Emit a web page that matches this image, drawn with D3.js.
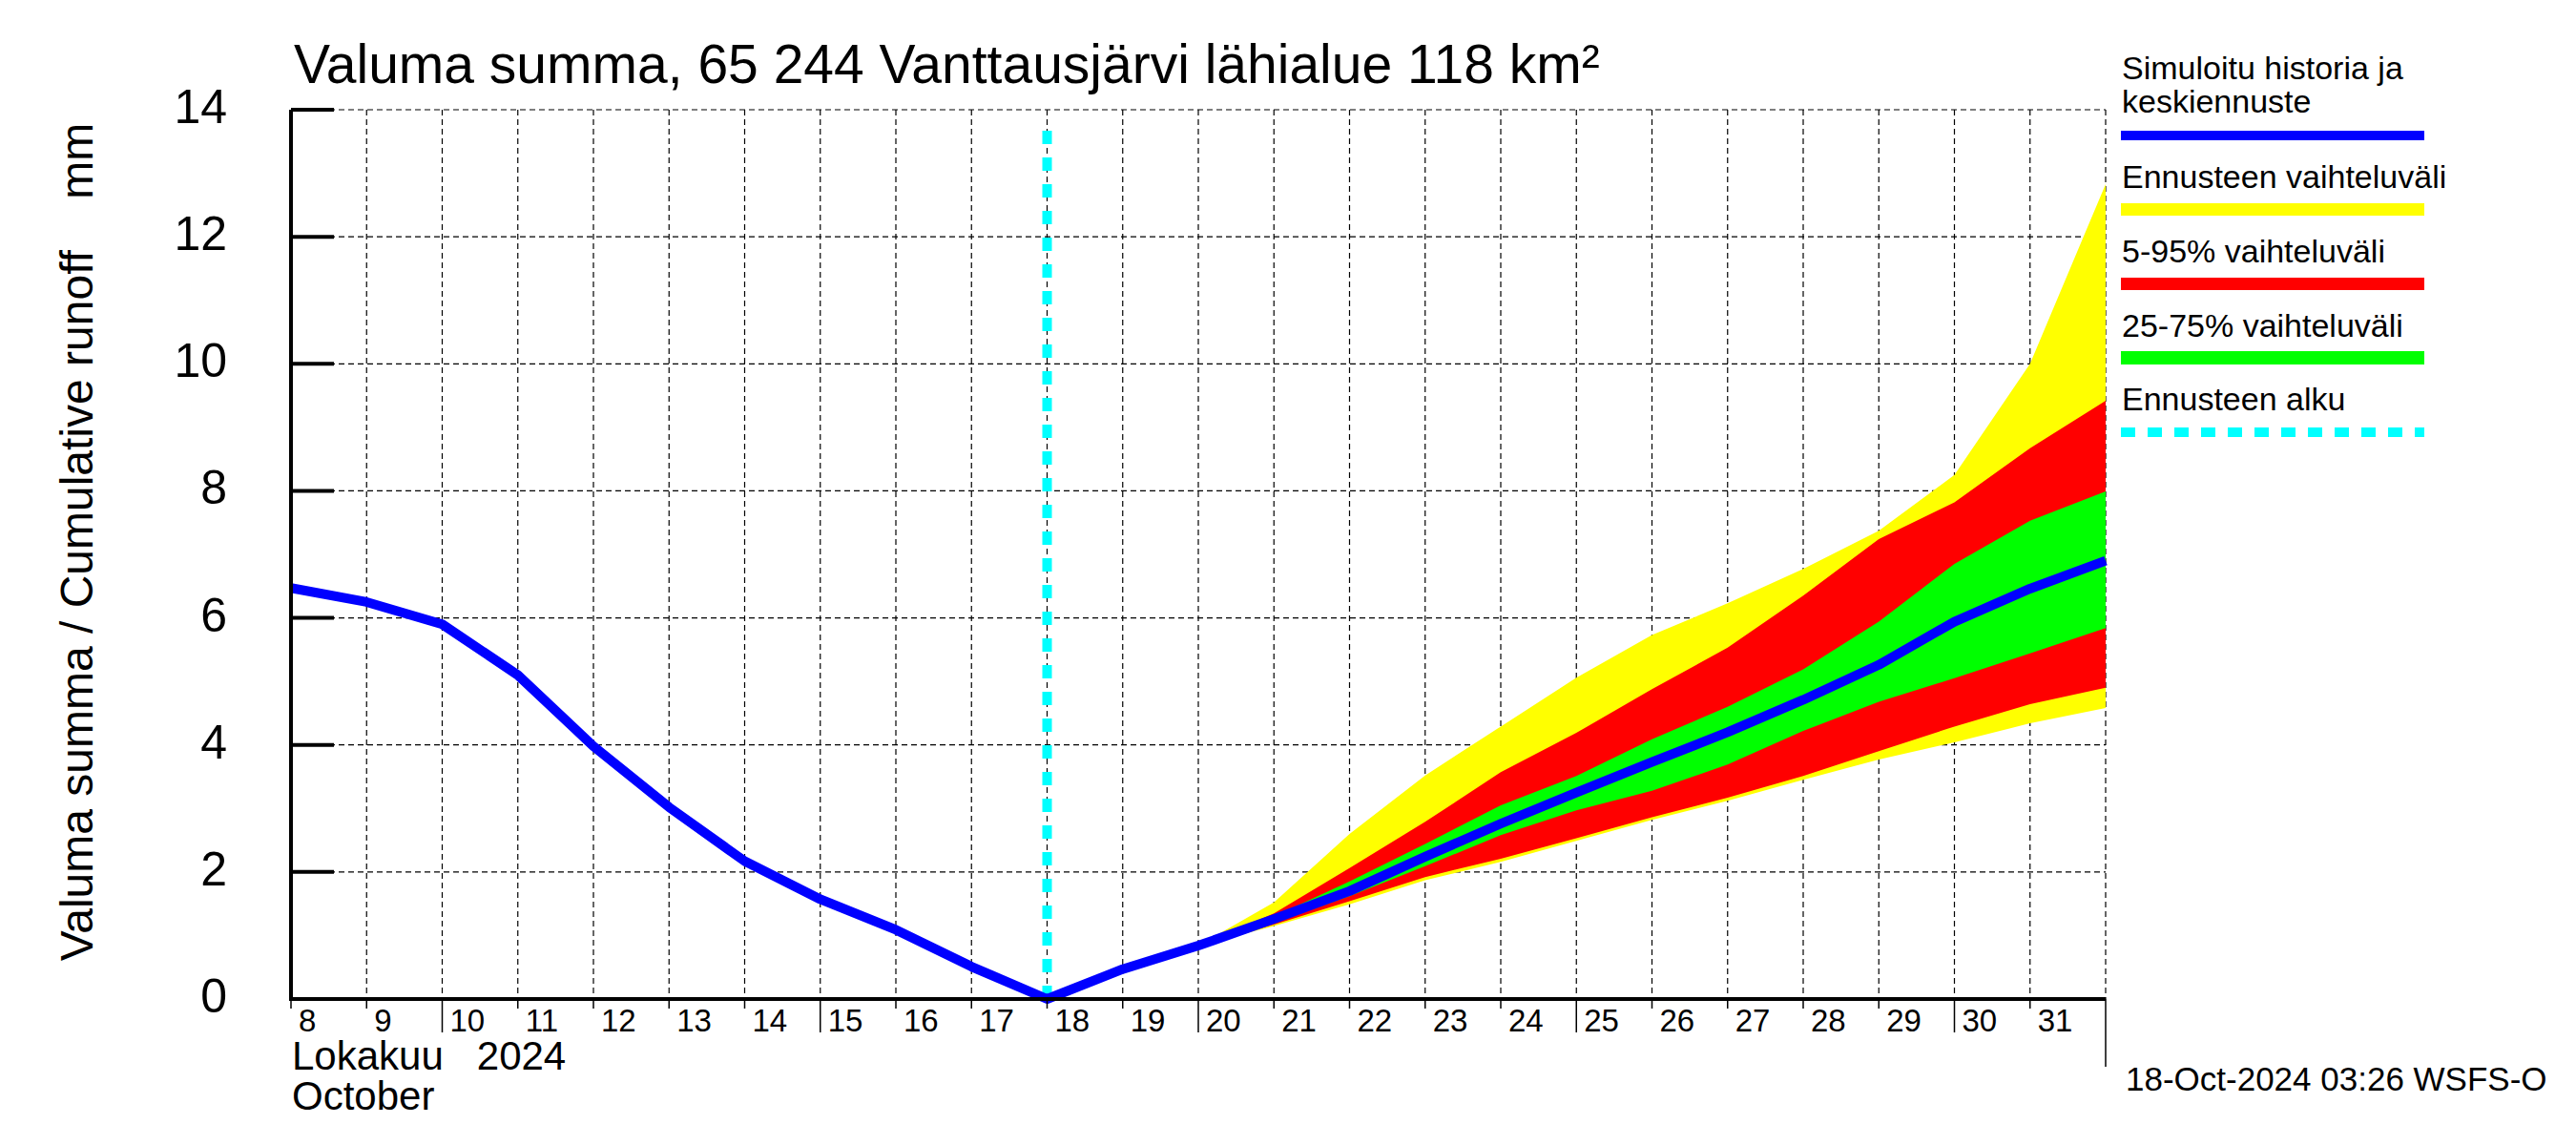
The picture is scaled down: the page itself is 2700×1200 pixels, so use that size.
<!DOCTYPE html>
<html>
<head>
<meta charset="utf-8">
<script src="https://cdn.jsdelivr.net/npm/d3@7/dist/d3.min.js"></script>
<style>
body { margin: 0; background: #fff; }
svg { display: block; }
text { font-family: "Liberation Sans", Arial, Helvetica, sans-serif; fill: #000; }
</style>
</head>
<body>
<svg id="chart" width="2700" height="1200"></svg>
<script>
// day of October (32 = 1 Nov)
var histDays = [8, 9, 10, 11, 12, 13, 14, 15, 16, 17, 18];
var histValues = [6.47, 6.25, 5.90, 5.10, 3.98, 3.02, 2.17, 1.57, 1.09, 0.51, 0.0];

var fcDays = [18, 19, 20, 21, 22, 23, 24, 25, 26, 27, 28, 29, 30, 31, 32];
var fcMean = [0.0, 0.47, 0.84, 1.26, 1.70, 2.24, 2.76, 3.25, 3.73, 4.20, 4.71, 5.26, 5.94, 6.46, 6.90];

var bandDays = [20, 21, 22, 23, 24, 25, 26, 27, 28, 29, 30, 31, 32];
var yellowHi = [0.84, 1.52, 2.60, 3.52, 4.29, 5.06, 5.73, 6.23, 6.77, 7.37, 8.25, 10.0, 12.83];
var yellowLo = [0.84, 1.15, 1.49, 1.87, 2.16, 2.49, 2.82, 3.12, 3.45, 3.77, 4.04, 4.34, 4.58];
var redHi = [0.84, 1.35, 2.06, 2.79, 3.57, 4.19, 4.88, 5.53, 6.35, 7.24, 7.82, 8.67, 9.42];
var redLo = [0.84, 1.17, 1.54, 1.92, 2.21, 2.53, 2.86, 3.17, 3.51, 3.90, 4.29, 4.64, 4.90];
var greenHi = [0.84, 1.30, 1.85, 2.44, 3.05, 3.51, 4.09, 4.60, 5.19, 5.94, 6.85, 7.53, 7.99];
var greenLo = [0.84, 1.20, 1.62, 2.09, 2.58, 2.97, 3.28, 3.69, 4.22, 4.68, 5.05, 5.44, 5.84];

var forecastStart = 18;
var dayTicks = d3.range(8, 32);
var yTicks = [0, 2, 4, 6, 8, 10, 12, 14];

var titleText = "Valuma summa, 65 244 Vanttausjärvi lähialue 118 km²";
var yLabel = "Valuma summa / Cumulative runoff    mm";
var monthLabel = "Lokakuu   2024";
var monthLabelEn = "October";
var stamp = "18-Oct-2024 03:26 WSFS-O";
var legendLabels = [["Simuloitu historia ja", "keskiennuste"], ["Ennusteen vaihteluväli"], ["5-95% vaihteluväli"], ["25-75% vaihteluväli"], ["Ennusteen alku"]];

var svg = d3.select("#chart");
var pLeft = 305, pRight = 2207, pTop = 115, pBottom = 1047;

var x = d3.scaleLinear().domain([8, 32]).range([pLeft, pRight]);
var y = d3.scaleLinear().domain([0, 14]).range([pBottom, pTop]);

// grid
var grid = svg.append("g");
grid.selectAll(".vg").data(d3.range(9, 33)).enter().append("line")
    .attr("x1", d => x(d)).attr("x2", d => x(d)).attr("y1", pTop).attr("y2", pBottom)
    .attr("stroke", "#000").attr("stroke-width", 1.2).attr("stroke-dasharray", "6,4");
grid.selectAll(".hg").data(yTicks.slice(1)).enter().append("line")
    .attr("x1", pLeft).attr("x2", pRight).attr("y1", d => y(d)).attr("y2", d => y(d))
    .attr("stroke", "#000").attr("stroke-width", 1.2).attr("stroke-dasharray", "6,4");

// bands
function band(hi, lo, color) {
    var area = d3.area()
        .x((d, i) => x(bandDays[i]))
        .y0((d, i) => y(lo[i]))
        .y1((d, i) => y(hi[i]));
    svg.append("path").datum(hi).attr("d", area).attr("fill", color);
}
band(yellowHi, yellowLo, "#ffff00");
band(redHi, redLo, "#ff0000");
band(greenHi, greenLo, "#00ff00");

// forecast start
svg.append("line")
    .attr("x1", x(forecastStart)).attr("x2", x(forecastStart))
    .attr("y1", pBottom).attr("y2", pTop + 8)
    .attr("stroke", "#00ffff").attr("stroke-width", 10).attr("stroke-dasharray", "14,14");

// mean line
var line = d3.line().x(d => x(d[0])).y(d => y(d[1]));
var meanPts = histDays.map((d, i) => [d, histValues[i]])
    .concat(fcDays.slice(1).map((d, i) => [d, fcMean[i + 1]]));
svg.append("path").datum(meanPts).attr("d", line)
    .attr("fill", "none").attr("stroke", "#0000ff").attr("stroke-width", 10)
    .attr("stroke-linejoin", "round");

// axes
svg.append("line").attr("x1", pLeft).attr("x2", pLeft).attr("y1", pTop).attr("y2", pBottom + 2)
    .attr("stroke", "#000").attr("stroke-width", 4);
svg.append("line").attr("x1", pLeft - 2).attr("x2", pRight).attr("y1", pBottom).attr("y2", pBottom)
    .attr("stroke", "#000").attr("stroke-width", 4);

svg.selectAll(".yt").data(yTicks).enter().append("line")
    .attr("x1", pLeft).attr("x2", pLeft + 45).attr("y1", d => y(d)).attr("y2", d => y(d))
    .attr("stroke", "#000").attr("stroke-width", 4);
svg.selectAll(".yl").data(yTicks).enter().append("text")
    .attr("x", 238).attr("y", d => y(d) + 14)
    .attr("text-anchor", "end").attr("font-size", 50).text(d => d);

svg.selectAll(".xt").data(dayTicks.concat([32])).enter().append("line")
    .attr("x1", d => x(d)).attr("x2", d => x(d)).attr("y1", pBottom)
    .attr("y2", d => d == 32 ? 1118 : (d % 5 == 0 ? 1082 : 1057))
    .attr("stroke", "#000").attr("stroke-width", 1.5);
svg.selectAll(".xl").data(dayTicks).enter().append("text")
    .attr("x", d => x(d) + 8).attr("y", 1081)
    .attr("font-size", 33).text(d => d);

svg.append("text").attr("x", 306).attr("y", 1121).attr("font-size", 42)
    .style("white-space", "pre").text(monthLabel);
svg.append("text").attr("x", 306).attr("y", 1163).attr("font-size", 42).text(monthLabelEn);

// titles
svg.append("text").attr("x", 308).attr("y", 87).attr("font-size", 57).text(titleText);
svg.append("text").attr("transform", "translate(97,568) rotate(-90)")
    .attr("text-anchor", "middle").attr("font-size", 48)
    .style("white-space", "pre").text(yLabel);
svg.append("text").attr("x", 2228).attr("y", 1143).attr("font-size", 35).text(stamp);

// legend
var lg = svg.append("g");
var lx = 2224;
var textY = [[83, 118], [197], [275], [353], [430]];
var barY = [142, 219.5, 297.5, 375, 453];
var barW = [10, 13, 13, 14, 10];
var barColor = ["#0000ff", "#ffff00", "#ff0000", "#00ff00", "#00ffff"];
legendLabels.forEach(function (lines, i) {
    lines.forEach(function (t, j) {
        lg.append("text").attr("x", lx).attr("y", textY[i][j]).attr("font-size", 34).text(t);
    });
    lg.append("line").attr("x1", 2223).attr("x2", 2541).attr("y1", barY[i]).attr("y2", barY[i])
        .attr("stroke", barColor[i]).attr("stroke-width", barW[i])
        .attr("stroke-dasharray", i == 4 ? "15,13" : null);
});
</script>
</body>
</html>
